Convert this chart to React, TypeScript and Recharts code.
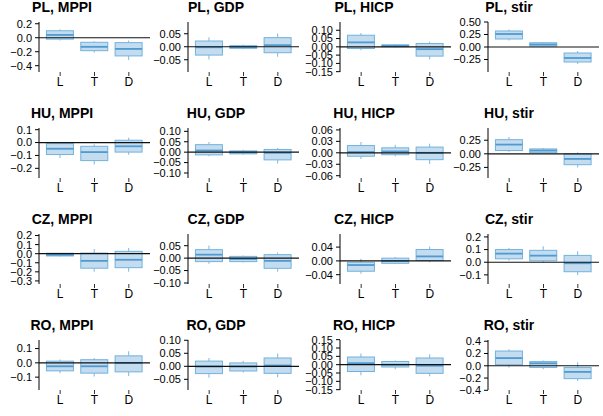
import { Bar, ComposedChart, ReferenceLine, XAxis, YAxis } from "recharts";

// box stats per group: [min, q1, median, q3, max]
const categories = ["L", "T", "D"];
const countries = ["PL", "HU", "CZ", "RO"];
const variables = ["MPPI", "GDP", "HICP", "stir"];

const plMppi = [[-0.04, -0.02, 0.04, 0.1, 0.12], [-0.21, -0.185, -0.13, -0.065, -0.05], [-0.32, -0.26, -0.16, -0.07, -0.04]];
const plGdp = [[-0.049, -0.032, -0.002, 0.022, 0.036], [-0.01, -0.006, -0.001, 0.004, 0.009], [-0.038, -0.023, 0.006, 0.035, 0.051]];
const plHicp = [[-0.02, -0.01, 0.027, 0.07, 0.084], [-0.003, 0.001, 0.006, 0.012, 0.016], [-0.076, -0.056, -0.014, 0.02, 0.03]];
const plStir = [[0.13, 0.16, 0.26, 0.32, 0.35], [0.01, 0.017, 0.05, 0.085, 0.1], [-0.34, -0.3, -0.22, -0.12, -0.08]];

const huMppi = [[-0.12, -0.093, -0.048, -0.008, 0.0], [-0.17, -0.14, -0.074, -0.029, -0.013], [-0.095, -0.074, -0.029, 0.018, 0.037]];
const huGdp = [[-0.02, -0.013, 0.008, 0.036, 0.049], [-0.012, -0.008, -0.001, 0.006, 0.012], [-0.054, -0.037, -0.003, 0.013, 0.02]];
const huHicp = [[-0.016, -0.009, 0.002, 0.019, 0.028], [-0.009, -0.005, 0.0035, 0.013, 0.021], [-0.029, -0.018, 0.0, 0.015, 0.024]];
const huStir = [[0.04, 0.06, 0.17, 0.26, 0.31], [0.01, 0.02, 0.06, 0.09, 0.105], [-0.25, -0.2, -0.094, 0.0, 0.03]];

const czMppi = [[-0.03, -0.025, -0.012, 0.005, 0.008], [-0.2, -0.16, -0.079, 0.007, 0.052], [-0.2, -0.154, -0.067, 0.026, 0.063]];
const czGdp = [[-0.023, -0.014, 0.014, 0.034, 0.051], [-0.018, -0.014, -0.003, 0.007, 0.011], [-0.055, -0.041, -0.011, 0.014, 0.023]];
const czHicp = [[-0.037, -0.03, -0.012, -0.004, 0.006], [-0.009, -0.007, 0.0, 0.008, 0.011], [-0.004, 0.001, 0.013, 0.033, 0.042]];
const czStir = [[0.014, 0.027, 0.068, 0.1, 0.113], [0.0, 0.011, 0.052, 0.094, 0.127], [-0.1, -0.075, -0.008, 0.054, 0.086]];

const roMppi = [[-0.072, -0.056, -0.024, 0.012, 0.024], [-0.096, -0.072, -0.024, 0.022, 0.034], [-0.092, -0.063, 0.0, 0.049, 0.082]];
const roGdp = [[-0.044, -0.028, -0.001, 0.02, 0.032], [-0.024, -0.018, -0.001, 0.013, 0.02], [-0.042, -0.027, 0.003, 0.032, 0.049]];
const roHicp = [[-0.064, -0.041, 0.009, 0.046, 0.067], [-0.027, -0.014, 0.0, 0.019, 0.025], [-0.069, -0.052, -0.006, 0.04, 0.063]];
const roStir = [[-0.03, 0.017, 0.125, 0.24, 0.27], [-0.056, -0.027, 0.04, 0.068, 0.085], [-0.25, -0.21, -0.1, -0.027, 0.056]];

const boxStats = [
	[plMppi, plGdp, plHicp, plStir],
	[huMppi, huGdp, huHicp, huStir],
	[czMppi, czGdp, czHicp, czStir],
	[roMppi, roGdp, roHicp, roStir],
];

// y ranges and tick values per panel
const yDomains = [
	[[-0.49, 0.225], [-0.097, 0.095], [-0.152, 0.15], [-0.5, 0.5]],
	[[-0.275, 0.113], [-0.124, 0.116], [-0.066, 0.065], [-0.445, 0.475]],
	[[-0.334, 0.217], [-0.104, 0.097], [-0.067, 0.078], [-0.172, 0.223]],
	[[-0.19, 0.16], [-0.091, 0.101], [-0.152, 0.148], [-0.395, 0.42]],
];

const yTicks = [
	[[0.2, 0, -0.2, -0.4], [0.05, 0, -0.05], [0.1, 0.05, 0, -0.05, -0.1, -0.15], [0.5, 0.25, 0, -0.25]],
	[[0.1, 0, -0.1, -0.2], [0.1, 0.05, 0, -0.05, -0.1], [0.06, 0.03, 0, -0.03, -0.06], [0.25, 0, -0.25]],
	[[0.2, 0.1, 0, -0.1, -0.2, -0.3], [0.05, 0, -0.05, -0.1], [0.04, 0, -0.04], [0.2, 0.1, 0, -0.1]],
	[[0.1, 0, -0.1], [0.1, 0.05, 0, -0.05], [0.15, 0.1, 0.05, 0, -0.05, -0.1, -0.15], [0.4, 0.2, 0, -0.2, -0.4]],
];

const yDigits = [
	[1, 2, 2, 2],
	[1, 2, 2, 2],
	[1, 2, 2, 1],
	[1, 2, 2, 1],
];

const FONT = '"Liberation Sans", Arial, Helvetica, sans-serif';
const BOX_FILL = "#c4dcef";
const BOX_STROKE = "#72b2dc";
const WHISKER = "#93c4e6";
const MEDIAN = "#4f9ad0";

const colLeft = [0, 149, 301, 449];
const titleCenter = [62, 67, 63, 60];
const ROW_H = 106;

function BoxShape(props: any) {
	const { x, y, width, height, payload } = props;
	if (payload == null || width == null) return null;
	const top = Math.min(y, y + height);
	const span = payload.max - payload.min;
	const px = span > 0 ? Math.abs(height) / span : 0;
	const yOf = (v: number) => top + (payload.max - v) * px;
	const cx = x + width / 2;
	const yq3 = yOf(payload.q3);
	const yq1 = yOf(payload.q1);
	return (
		<g>
			<line x1={cx} x2={cx} y1={yOf(payload.max)} y2={yq3} stroke={WHISKER} strokeWidth={1.2} />
			<line x1={cx} x2={cx} y1={yq1} y2={yOf(payload.min)} stroke={WHISKER} strokeWidth={1.2} />
			<rect
				x={x}
				y={yq3}
				width={width}
				height={Math.max(yq1 - yq3, 0.5)}
				fill={BOX_FILL}
				stroke={BOX_STROKE}
				strokeWidth={1}
			/>
			<line
				x1={x}
				x2={x + width}
				y1={yOf(payload.median)}
				y2={yOf(payload.median)}
				stroke={MEDIAN}
				strokeWidth={1.8}
			/>
		</g>
	);
}

function Panel({ row, col }: { row: number; col: number }) {
	const data = categories.map((name, i) => {
		const [min, q1, median, q3, max] = boxStats[row][col][i];
		return { name, min, q1, median, q3, max };
	});
	const digits = yDigits[row][col];
	const fmt = (v: number) => v.toFixed(digits).replace("-", "\u2212");

	return (
		<div style={{ position: "absolute", left: colLeft[col], top: row * ROW_H, width: 150, height: ROW_H }}>
			<div
				style={{
					position: "absolute",
					left: titleCenter[col] - 60,
					top: 0,
					width: 120,
					textAlign: "center",
					fontSize: 14,
					lineHeight: "14px",
					fontWeight: "bold",
					fontFamily: FONT,
					color: "#000",
					whiteSpace: "nowrap",
				}}
			>
				{countries[row]}, {variables[col]}
			</div>
			<ComposedChart
				width={150}
				height={ROW_H}
				data={data}
				margin={{ top: 22, right: 0, bottom: 14, left: 0 }}
				barCategoryGap="10%"
			>
				<XAxis
					dataKey="name"
					height={20}
					axisLine={false}
					tickLine={{ stroke: "#333" }}
					tickSize={4}
					tickMargin={1}
					interval={0}
					padding={{ left: 4, right: 4 }}
					tick={{ fontSize: 12, fill: "#000", fontFamily: FONT }}
				/>
				<YAxis
					type="number"
					domain={yDomains[row][col]}
					ticks={yTicks[row][col]}
					allowDataOverflow
					interval={0}
					width={39}
					tickFormatter={fmt}
					axisLine={{ stroke: "#000" }}
					tickLine={{ stroke: "#000" }}
					tickSize={4}
					tickMargin={3}
					tick={{ fontSize: 11, fill: "#000", fontFamily: FONT }}
				/>
				<Bar
					dataKey={(d: any) => [d.min, d.max]}
					shape={BoxShape}
					isAnimationActive={false}
				/>
				<ReferenceLine y={0} stroke="#111" strokeWidth={1.2} zIndex={1000} />
			</ComposedChart>
		</div>
	);
}

export default function App() {
	return (
		<div
			style={{
				position: "absolute",
				left: 0,
				top: 0,
				width: 603,
				height: 416,
				overflow: "hidden",
				background: "#fff",
			}}
		>
			{countries.map((_, r) =>
				variables.map((_, c) => <Panel key={`${r}-${c}`} row={r} col={c} />),
			)}
		</div>
	);
}
